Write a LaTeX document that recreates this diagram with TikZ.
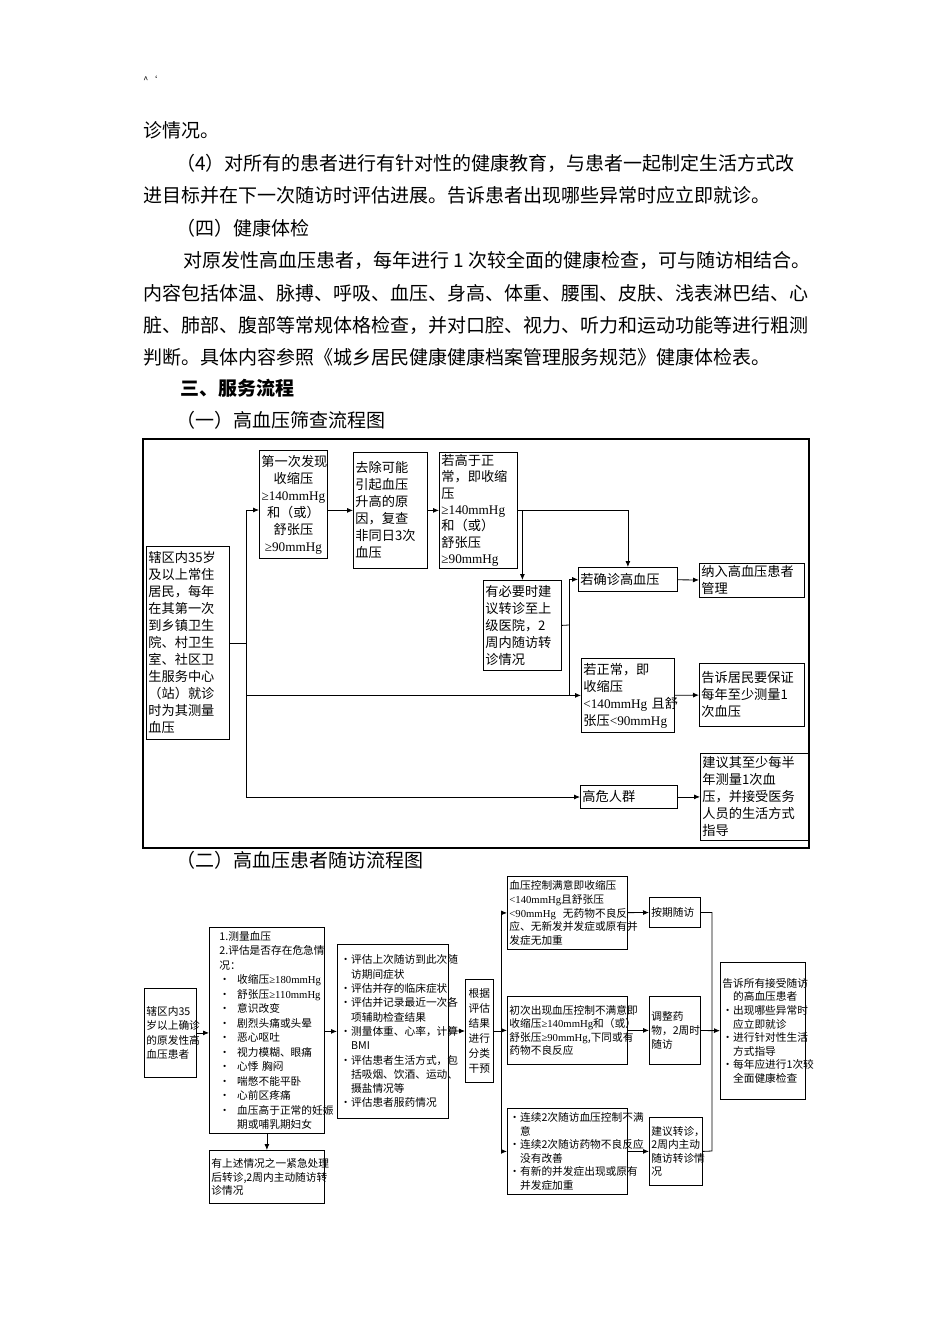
\documentclass[tikz,border=0pt]{standalone}
\usepackage{fontspec}
\setmainfont{Noto Sans CJK SC}
\newfontfamily\latnum{Liberation Serif}
\newcommand\nm[1]{{\latnum #1}}
\usetikzlibrary{arrows.meta}

\begin{document}
\begin{tikzpicture}[x=1pt, y=-1pt, >={Latex[length=6pt,width=5pt]}, line width=0.8pt,
  bodytxt/.style={anchor=west, inner sep=0pt, font=\fontsize{19}{22}\selectfont},
  scrbox/.style={draw, anchor=north west, inner sep=2pt, align=left,
    font=\fontsize{13.2}{17}\selectfont},
  fubox/.style={draw, anchor=north west, inner sep=2pt, align=left,
    font=\fontsize{10.7}{13.6}\selectfont}]
\useasboundingbox (0,0) rectangle (950,1344);
\fill[white] (0,0) rectangle (950,1344);
% running text above the charts
\node[bodytxt, font=\fontsize{9}{9}\selectfont] (mark) at (143,80) {\textasciicircum`};
\node[bodytxt] (t1) at (143,130) {诊情况。};
\node[bodytxt] (t2) at (176,163) {（4）对所有的患者进行有针对性的健康教育，与患者一起制定生活方式改};
\node[bodytxt] (t3) at (143,195) {进目标并在下一次随访时评估进展。告诉患者出现哪些异常时应立即就诊。};
\node[bodytxt] (t4) at (176,228) {（四）健康体检};
\node[bodytxt] (t5) at (183,260) {对原发性高血压患者，每年进行 1 次较全面的健康检查，可与随访相结合。};
\node[bodytxt] (t6) at (143,293) {内容包括体温、脉搏、呼吸、血压、身高、体重、腰围、皮肤、浅表淋巴结、心};
\node[bodytxt] (t7) at (143,325) {脏、肺部、腹部等常规体格检查，并对口腔、视力、听力和运动功能等进行粗测};
\node[bodytxt] (t8) at (143,357) {判断。具体内容参照《城乡居民健康健康档案管理服务规范》健康体检表。};
\node[bodytxt, font=\fontsize{19}{22}\selectfont\bfseries] (sec) at (180,388) {三、服务流程};
\node[bodytxt] (cap1) at (176,420) {（一）高血压筛查流程图};
\node[bodytxt] (cap2) at (176,860) {（二）高血压患者随访流程图};

% --- screening chart ---
\draw[line width=1.3pt] (143,439) rectangle (809,848);
\node[scrbox, text width=79pt, minimum height=193pt] (resid) at (146,546)
  {辖区内35岁\\及以上常住\\居民，每年\\在其第一次\\到乡镇卫生\\院、村卫生\\室、社区卫\\生服务中心\\（站）就诊\\时为其测量\\血压};
\node[scrbox, text width=64pt, minimum height=108pt, align=center] (first) at (259,450)
  {第一次发现\\收缩压\\\nm{≥140mmHg}\\和（或）\\舒张压\\\nm{≥90mmHg}};
\node[scrbox, text width=70pt, minimum height=116pt] (recheck) at (353,452)
  {去除可能\\引起血压\\升高的原\\因，复查\\非同日3次\\血压};
\node[scrbox, text width=74pt, minimum height=116pt, font=\fontsize{13.2}{16.3}\selectfont] (above) at (439,452)
  {若高于正\\常，即收缩\\压\\\nm{≥140mmHg}\\和（或）\\舒张压\\\nm{≥90mmHg}};
\node[scrbox, text width=74pt, minimum height=90pt] (refer) at (483,580)
  {有必要时建\\议转诊至上\\级医院，2\\周内随访转\\诊情况};
\node[scrbox, text width=95pt, minimum height=24pt] (confirm) at (578,567) {若确诊高血压};
\node[scrbox, text width=101pt, minimum height=34pt] (manage) at (699,563) {纳入高血压患者\\管理};
\node[scrbox, text width=89pt, minimum height=74pt] (normal) at (581,658)
  {若正常，即\\收缩压\\\nm{<140mmHg}~且舒\\张压\nm{<90mmHg}};
\node[scrbox, text width=101pt, minimum height=63pt] (yearly) at (699,663)
  {告诉居民要保证\\每年至少测量1\\次血压};
\node[scrbox, text width=93pt, minimum height=23pt] (risk) at (580,785) {高危人群};
\node[scrbox, text width=105pt, minimum height=87pt] (halfyr) at (700,753)
  {建议其至少每半\\年测量1次血\\压，并接受医务\\人员的生活方式\\指导};
% trunk on the left
\coordinate (trtop) at (246,510);
\coordinate (trbot) at (246,797);
\draw (resid.east) -- (resid.east -| trtop);
\draw (trtop) -- (trbot);
\draw[->] (trtop) -- (trtop -| first.west);
\draw[->] (trtop |- normal.west) -- (normal.west);
\draw[->] (trbot) -- (trbot -| risk.west);
\draw[->] (first.east |- recheck.west) -- (recheck.west);
\draw[->] (recheck) -- (above);
\draw[->] (above.east) -| (confirm.north);
\draw[->] (above.east -| refer.north) -- (refer.north);
\coordinate (jn) at (569,625);
\draw (refer.east) -- (jn);
\draw[->] (jn) |- (confirm.west);
\draw (jn) -- (jn |- normal.west);
\draw[->] (confirm) -- (manage);
\draw[->] (normal) -- (yearly);
\draw[->] (risk) -- (halfyr);

% --- follow-up chart ---
\node[fubox, text width=48pt, minimum height=89pt, font=\fontsize{10.7}{14.5}\selectfont] (pat) at (144,988)
  {辖区内35\\岁以上确诊\\的原发性高\\血压患者};
\node[fubox, text width=95pt, inner xsep=10pt, minimum height=206pt, font=\fontsize{10.7}{14.5}\selectfont] (urgent) at (209,927)
  {1.测量血压\\2.评估是否存在危急情\\况：\\•~~收缩压\nm{≥180mmHg}\\•~~舒张压\nm{≥110mmHg}\\•~~意识改变\\•~~剧烈头痛或头晕\\•~~恶心呕吐\\•~~视力模糊、眼痛\\•~~心悸~胸闷\\•~~喘憋不能平卧\\•~~心前区疼痛\\•~~血压高于正常的妊娠\\\hphantom{•~~}期或哺乳期妇女};
\node[fubox, text width=111pt, minimum height=53pt] (emerg) at (209,1150)
  {有上述情况之一紧急处理\\后转诊,2周内主动随访转\\诊情况};
\node[fubox, text width=105pt, inner xsep=3pt, minimum height=174pt, font=\fontsize{10.7}{14.3}\selectfont] (assess) at (337,944)
  {•评估上次随访到此次随\\\hphantom{•}访期间症状\\•评估并存的临床症状\\•评估并记录最近一次各\\\hphantom{•}项辅助检查结果\\•测量体重、心率，计算\\\hphantom{•}BMI\\•评估患者生活方式，包\\\hphantom{•}括吸烟、饮酒、运动、\\\hphantom{•}摄盐情况等\\•评估患者服药情况};
\node[fubox, text width=24pt, minimum height=103pt, align=center, font=\fontsize{10.7}{15}\selectfont] (classify) at (465,979)
  {根据\\评估\\结果\\进行\\分类\\干预};
\node[fubox, text width=116pt, minimum height=73pt] (good) at (507,876)
  {血压控制满意即收缩压\\\nm{<140mmHg}且舒张压\\\nm{<90mmHg}~~无药物不良反\\应、无新发并发症或原有并\\发症无加重};
\node[fubox, text width=116pt, minimum height=68pt] (poor) at (507,996)
  {初次出现血压控制不满意即\\收缩压\nm{≥140mmHg}和（或）\\舒张压\nm{≥90mmHg},下同或有\\药物不良反应};
\node[fubox, text width=116pt, minimum height=86pt] (twice) at (507,1108)
  {•连续2次随访血压控制不满\\\hphantom{•}意\\•连续2次随访药物不良反应\\\hphantom{•}没有改善\\•有新的并发症出现或原有\\\hphantom{•}并发症加重};
\node[fubox, text width=47pt, minimum height=30pt] (sched) at (649,897) {按期随访};
\node[fubox, text width=47pt, minimum height=68pt] (adjust) at (649,996)
  {调整药\\物，2周时\\随访};
\node[fubox, text width=49pt, minimum height=68pt] (transfer) at (649,1117)
  {建议转诊，\\2周内主动\\随访转诊情\\况};
\node[fubox, text width=81pt, minimum height=137pt] (advise) at (720,962)
  {告诉所有接受随访\\\hphantom{•}的高血压患者\\•出现哪些异常时\\\hphantom{•}应立即就诊\\•进行针对性生活\\\hphantom{•}方式指导\\•每年应进行1次较\\\hphantom{•}全面健康检查};
\draw[->] (pat.east) -- (pat.east -| urgent.west);
\draw[->] (urgent.east |- assess.west) -- (assess.west);
\draw[->] (urgent.south) -- (emerg.north);
\draw[->] (assess) -- (classify);
% split into three groups
\coordinate (sp) at (501,1030);
\draw (classify.east) -- (classify.east -| sp);
\draw (sp |- good.west) -- (sp |- twice.west);
\draw[->] (sp |- good.west) -- (good.west);
\draw[->] (sp |- poor.west) -- (poor.west);
\draw[->] (sp |- twice.west) -- (twice.west);
\draw[->] (good) -- (sched);
\draw[->] (poor) -- (adjust);
\draw[->] (twice) -- (transfer);
% join towards the advice box
\coordinate (cl) at (712,1151);
\draw (sched.east) -| (cl) -- (transfer.east);
\draw[->] (adjust) -- (advise);
\end{tikzpicture}
\end{document}
